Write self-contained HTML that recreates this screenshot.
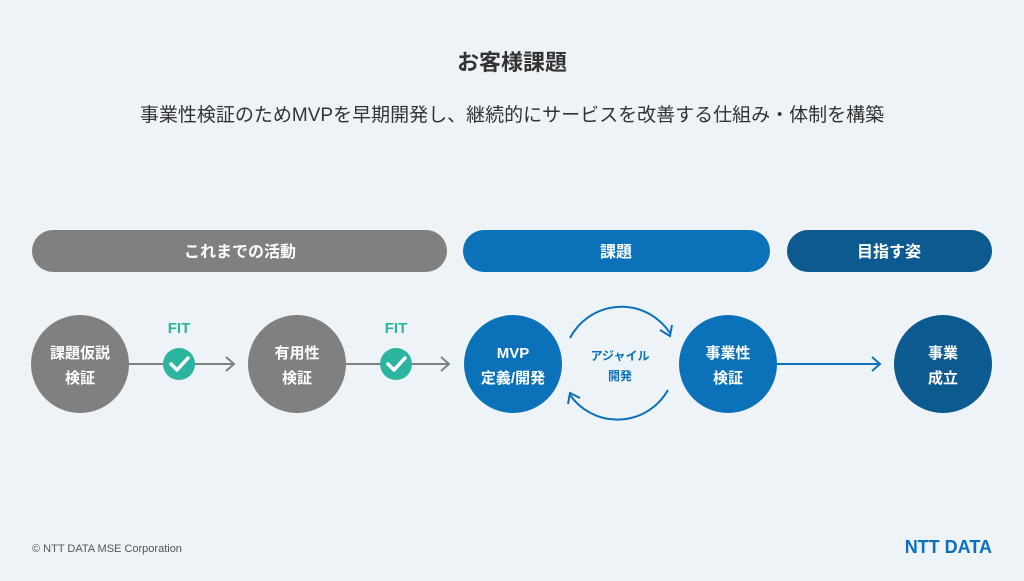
<!DOCTYPE html><html><head><meta charset="utf-8"><style>
body{margin:0;width:1024px;height:576px;background:#eef3f8;overflow:hidden;font-family:"Liberation Sans","Noto Sans CJK JP",sans-serif}
</style></head><body>
<svg width="1024" height="576" xmlns="http://www.w3.org/2000/svg" font-family="Liberation Sans, Noto Sans CJK JP, sans-serif">
<rect width="1024" height="576" fill="#eef3f8"/>
<text x="512" y="70" text-anchor="middle" font-size="22" font-weight="bold" fill="#333">お客様課題</text>
<text x="512" y="121" text-anchor="middle" font-size="19" fill="#333">事業性検証のためMVPを早期開発し、継続的にサービスを改善する仕組み・体制を構築</text>
<rect x="32" y="230" width="415" height="42" rx="21" fill="#808080"/>
<rect x="463" y="230" width="307" height="42" rx="21" fill="#0b72b9"/>
<rect x="787" y="230" width="205" height="42" rx="21" fill="#0d5a91"/>
<g font-size="16" font-weight="bold" fill="#fff" text-anchor="middle">
<text x="240" y="257">これまでの活動</text>
<text x="616" y="257">課題</text>
<text x="889" y="257">目指す姿</text>
</g>
<g stroke="#808080" stroke-width="2" fill="none">
<line x1="128" y1="364" x2="234" y2="364"/><polyline points="226,357 234,364 226,371"/>
<line x1="345" y1="364" x2="449" y2="364"/><polyline points="441,357 449,364 441,371"/>
</g>
<g stroke="#0b72b9" stroke-width="2" fill="none">
<line x1="777" y1="364" x2="880" y2="364"/><polyline points="872,357 880,364 872,371"/>
<path d="M570,338 A58,58 0 0 1 670,333"/><polyline points="660,330 670,336 672,325"/>
<path d="M668,390 A58,58 0 0 1 570,395"/><polyline points="580,398 570,393 568,404"/>
</g>
<circle cx="80" cy="364" r="49" fill="#808080"/>
<circle cx="297" cy="364" r="49" fill="#808080"/>
<circle cx="513" cy="364" r="49" fill="#0b72b9"/>
<circle cx="728" cy="364" r="49" fill="#0b72b9"/>
<circle cx="943" cy="364" r="49" fill="#0d5a91"/>
<circle cx="179" cy="364" r="16" fill="#2bb5a0"/>
<circle cx="396" cy="364" r="16" fill="#2bb5a0"/>
<g stroke="#fff" stroke-width="3.5" fill="none" stroke-linecap="round" stroke-linejoin="round">
<polyline points="171,364 177,370 188,358"/><polyline points="388,364 394,370 405,358"/>
</g>
<g font-size="15" font-weight="bold" fill="#2bb5a0" text-anchor="middle">
<text x="179" y="333">FIT</text><text x="396" y="333">FIT</text>
</g>
<g font-size="15" font-weight="bold" fill="#fff" text-anchor="middle">
<text x="80" y="358">課題仮説</text><text x="80" y="383">検証</text>
<text x="297" y="358">有用性</text><text x="297" y="383">検証</text>
<text x="513" y="358">MVP</text><text x="513" y="383">定義/開発</text>
<text x="728" y="358">事業性</text><text x="728" y="383">検証</text>
<text x="943" y="358">事業</text><text x="943" y="383">成立</text>
</g>
<g font-size="12" font-weight="bold" fill="#0b72b9" text-anchor="middle">
<text x="620" y="360">アジャイル</text><text x="620" y="380">開発</text>
</g>
<text x="32" y="552" font-size="11" fill="#555">© NTT DATA MSE Corporation</text>
<text x="992" y="553" text-anchor="end" font-size="18" font-weight="bold" fill="#0b6fc0">NTT DATA</text>
</svg>
</body></html>
